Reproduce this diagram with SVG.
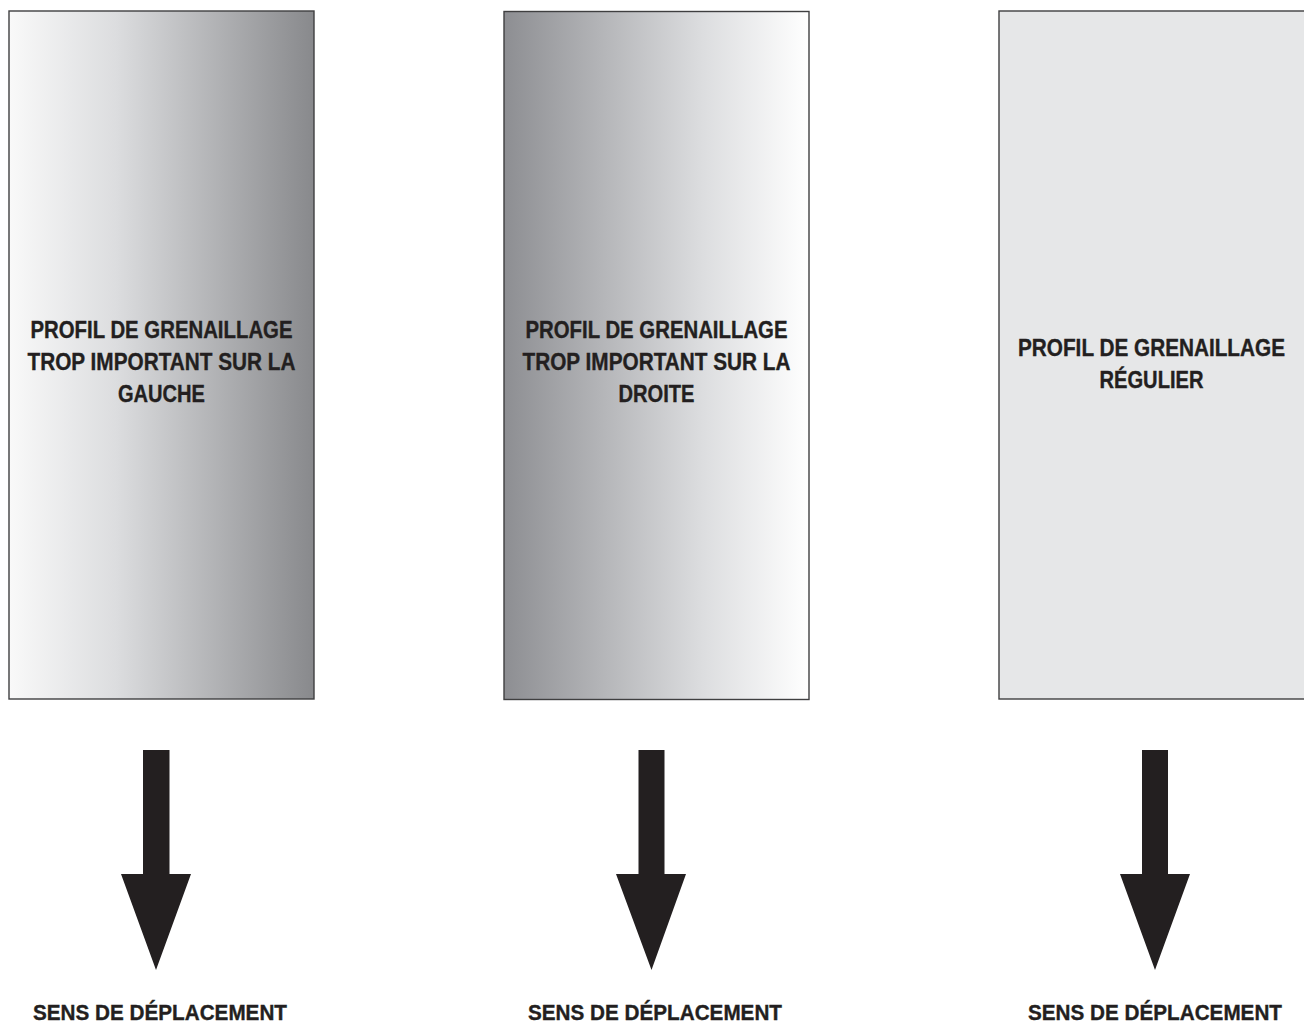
<svg xmlns="http://www.w3.org/2000/svg" width="1304" height="1028" viewBox="0 0 1304 1028">
<style>
.box{stroke:#3f3f40;stroke-width:1.4}
.t{font-family:"Liberation Sans",Arial,sans-serif;font-weight:bold;font-size:23px;fill:#231f20;stroke:#231f20;stroke-width:0.35;text-anchor:middle}
.s{font-size:21.5px}
.arr{fill:#231f20}
</style>
<defs>
<linearGradient id="gL" x1="0" y1="0" x2="1" y2="0">
<stop offset="0" stop-color="#f9f9f9"/>
<stop offset="0.35" stop-color="#dcdddf"/>
<stop offset="1" stop-color="#88898c"/>
</linearGradient>
<linearGradient id="gR" x1="0" y1="0" x2="1" y2="0">
<stop offset="0" stop-color="#8d8e92"/>
<stop offset="0.65" stop-color="#dcdddf"/>
<stop offset="1" stop-color="#ffffff"/>
</linearGradient>
</defs>
<rect width="1304" height="1028" fill="#ffffff"/>
<g id="node-gauche">
<rect class="box" x="9" y="11" width="305" height="688" fill="url(#gL)"/>
<text class="t" x="161.5" y="337.5" textLength="262" lengthAdjust="spacingAndGlyphs">PROFIL DE GRENAILLAGE</text>
<text class="t" x="161.5" y="369.5" textLength="268" lengthAdjust="spacingAndGlyphs">TROP IMPORTANT SUR LA</text>
<text class="t" x="161.5" y="401.5" textLength="87" lengthAdjust="spacingAndGlyphs">GAUCHE</text>
</g>
<g id="node-droite">
<rect class="box" x="504" y="11.5" width="305" height="688" fill="url(#gR)"/>
<text class="t" x="656.5" y="337.5" textLength="262" lengthAdjust="spacingAndGlyphs">PROFIL DE GRENAILLAGE</text>
<text class="t" x="656.5" y="369.5" textLength="268" lengthAdjust="spacingAndGlyphs">TROP IMPORTANT SUR LA</text>
<text class="t" x="656.5" y="401.5" textLength="76" lengthAdjust="spacingAndGlyphs">DROITE</text>
</g>
<g id="node-regulier">
<rect class="box" x="999" y="11" width="310" height="688" fill="#e6e7e8"/>
<text class="t" x="1151.5" y="356" textLength="267" lengthAdjust="spacingAndGlyphs">PROFIL DE GRENAILLAGE</text>
<text class="t" x="1151.5" y="388" textLength="104" lengthAdjust="spacingAndGlyphs">RÉGULIER</text>
</g>
<g id="connectors">
<polygon class="arr" points="143,750 169.5,750 169.5,874 191,874 156,970 121,874 143,874"/>
<polygon class="arr" points="638.5,750 664.5,750 664.5,874 686,874 651.5,970 616,874 638.5,874"/>
<polygon class="arr" points="1142,750 1168,750 1168,874 1190,874 1155,970 1120,874 1142,874"/>
</g>
<g id="labels">
<text class="t s" x="160" y="1019.5" textLength="254" lengthAdjust="spacingAndGlyphs">SENS DE DÉPLACEMENT</text>
<text class="t s" x="655" y="1019.5" textLength="254" lengthAdjust="spacingAndGlyphs">SENS DE DÉPLACEMENT</text>
<text class="t s" x="1155" y="1019.5" textLength="254" lengthAdjust="spacingAndGlyphs">SENS DE DÉPLACEMENT</text>
</g>
</svg>
